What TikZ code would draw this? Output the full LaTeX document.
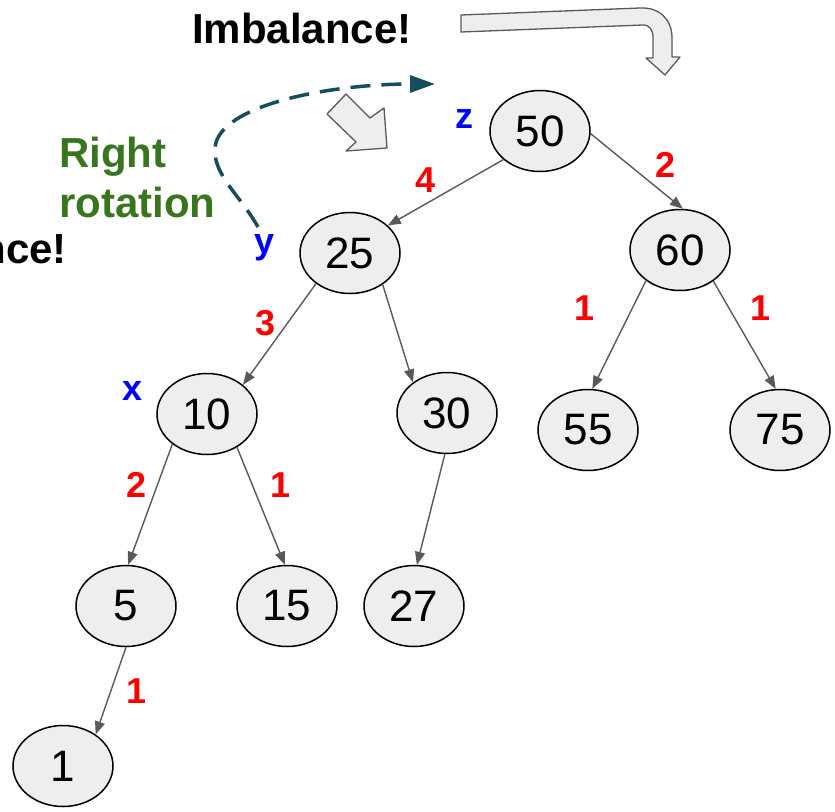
\documentclass[tikz,border=0pt]{standalone}
\usepackage{fontspec}
\setmainfont{Liberation Sans}
\usetikzlibrary{arrows.meta,shapes.geometric}
\definecolor{nodefill}{HTML}{EEEEEE}
\definecolor{edgegray}{HTML}{595959}
\definecolor{teal3}{HTML}{134F5C}
\definecolor{green3}{HTML}{38761D}
\tikzset{
  tnode/.style={ellipse, draw=black, line width=1.5pt, fill=nodefill,
    minimum width=100pt, minimum height=81pt, inner sep=0pt,
    font=\fontsize{44}{50}\selectfont},
  tedge/.style={draw=edgegray, line width=1.4pt,
    -{Triangle[length=13pt,width=10pt]}},
  wlabel/.style={anchor=base, text=red, inner sep=0pt,
    font=\fontsize{36}{40}\selectfont\bfseries},
  letlabel/.style={anchor=base, text=blue, inner sep=0pt,
    font=\fontsize{36}{40}\selectfont\bfseries},
  bigtext/.style={inner sep=0pt, font=\fontsize{42}{48}\selectfont\bfseries},
  blockarrow/.style={draw=edgegray, line width=1.3pt, fill=nodefill, line join=round}
}
\begin{document}
\begin{tikzpicture}[x=1pt,y=-1pt]
\useasboundingbox (0,0) rectangle (835,811);

% tree nodes
\node[tnode] (n50) at (540,131) {50};
\node[tnode] (n25) at (350,253) {25};
\node[tnode] (n60) at (680,250) {60};
\node[tnode] (n10) at (207,414) {10};
\node[tnode] (n30) at (447,413) {30};
\node[tnode] (n55) at (588,430) {55};
\node[tnode] (n75) at (780,430) {75};
\node[tnode] (n5)  at (126,606) {5};
\node[tnode] (n15) at (287,606) {15};
\node[tnode] (n27) at (414,606) {27};
\node[tnode] (n1)  at (63,766) {1};

% edges
\draw[tedge] (n50.218) -- (n25.36);
\draw[tedge] (n50.-3) -- (n60.86);
\draw[tedge] (n25.222) -- (n10.39);
\draw[tedge] (n25.316) -- (n30.138);
\draw[tedge] (n60.222) -- (n55.84);
\draw[tedge] (n60.317) -- (n75.96);
\draw[tedge] (n10.221) -- (n5.87);
\draw[tedge] (n10.312) -- (n15.93);
\draw[tedge] (n30.267) -- (n27.86);
\draw[tedge] (n5.270) -- (n1.44);

% weights
\node[wlabel] (w4) at (426,192) {4};
\node[wlabel] (w2a) at (666,177) {2};
\node[wlabel] (w1a) at (585,320) {1};
\node[wlabel] (w1b) at (761,320) {1};
\node[wlabel] (w3) at (266,335) {3};
\node[wlabel] (w2b) at (137,497) {2};
\node[wlabel] (w1c) at (281,497) {1};
\node[wlabel] (w1d) at (137,703) {1};

% letters
\node[letlabel] (lz) at (464,128) {z};
\node[letlabel] (ly) at (265,253) {y};
\node[letlabel] (lx) at (133,400) {x};

% texts
\node[bigtext, anchor=base west] (imb1) at (192,43) {Imbalance!};
\node[bigtext, anchor=base east] (imb2) at (67,263) {Imbalance!};
\node[bigtext, anchor=base west, text=green3] (rt1) at (59,167) {Right};
\node[bigtext, anchor=base west, text=green3] (rt2) at (59,217) {rotation};

% block arrows
\draw[blockarrow] (461,15) -- (640,8) .. controls (660,7) and (672,20) .. (672,38)
  -- (672,57) -- (680,57) -- (665,75) -- (646,58) -- (653,58) -- (653,38)
  .. controls (653,30) and (650,25) .. (643,25) -- (461,32) -- cycle;
\draw[blockarrow] (327,114) -- (346,94) -- (370,118) -- (384,108) -- (387,148)
  -- (346,151) -- (356,142) -- cycle;

% dashed rotation arrow
\coordinate (ds) at (258,227);
\coordinate (dm) at (215,148);
\coordinate (de) at (435,84);
\draw[teal3, line width=3.5pt, dash pattern=on 20pt off 11pt,
  -{Triangle[length=25pt,width=17pt]}]
  (ds) .. controls (240,195) and (213,175) .. (dm)
  .. controls (218,105) and (330,84) .. (de);
\end{tikzpicture}
\end{document}
